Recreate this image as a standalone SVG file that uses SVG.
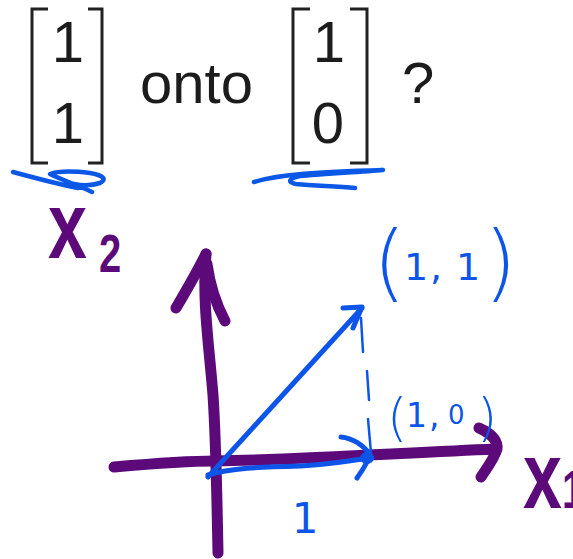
<svg xmlns="http://www.w3.org/2000/svg" width="573" height="559" viewBox="0 0 573 559">
<style>
.tx{font-family:"Liberation Sans",Arial,sans-serif;font-size:58px;fill:#1c1c1c}
.br{fill:none;stroke:#222;stroke-width:3;stroke-linecap:butt}
.ul{fill:none;stroke:#0b57e6;stroke-width:4.5;stroke-linecap:round;stroke-linejoin:round}
.ax{fill:none;stroke:#5c0a7a;stroke-width:11;stroke-linecap:round;stroke-linejoin:round}
.vc{fill:none;stroke:#0d55e8;stroke-width:5;stroke-linecap:round;stroke-linejoin:round}
.ds{fill:none;stroke:#0d55e8;stroke-width:2.5;stroke-linecap:round}
.bl{font-family:"DejaVu Sans",sans-serif;fill:#0d55e8}
.pr{font-weight:200}
.pl{font-family:"Liberation Sans",Arial,sans-serif;font-weight:bold;fill:#5c0a7a}
</style>
<rect width="573" height="559" fill="#ffffff"/>
<g id="header">
  <g id="matrix-11">
    <path class="br" d="M48,9 H32 V163 H48"/>
    <path class="br" d="M88,9 H102 V163 H88"/>
    <text class="tx" x="68" y="62" text-anchor="middle">1</text>
    <text class="tx" x="68" y="143" text-anchor="middle">1</text>
  </g>
  <text id="onto" class="tx" x="140" y="103">onto</text>
  <g id="matrix-10">
    <path class="br" d="M310,9 H293 V163 H310"/>
    <path class="br" d="M350,9 H367 V163 H350"/>
    <text class="tx" x="329" y="62" text-anchor="middle">1</text>
    <text class="tx" x="328" y="143" text-anchor="middle">0</text>
  </g>
  <text id="question" class="tx" x="402" y="103">?</text>
</g>
<g id="underlines">
  <path class="ul" d="M13,172 C35,178 58,184 78,188 M92,192 C80,186 62,180 50,174 C58,171 72,171 90,173 C102,175 108,179 100,183 C94,185 84,186 74,184"/>
  <path class="ul" d="M254,182 C280,174 320,172 383,170 C360,172 320,174 300,176 C290,178 286,182 296,184 C315,186 335,186 355,188"/>
</g>
<g id="axes">
  <path class="ax" d="M218,553 C217,500 216,440 213,395 C209,345 202,300 206,254"/>
  <path class="ax" d="M206,254 C197,272 186,291 176,308"/>
  <path class="ax" d="M207,264 C210,286 217,306 225,321"/>
  <path class="ax" d="M114,467 C160,463 190,461 215,461 C300,460 400,453 495,449"/>
  <path class="ax" d="M479,428 C490,433 498,440 497,449 C494,459 487,468 481,477"/>
</g>
<g id="connectors">
  <path class="vc" d="M208,477 L362,308"/>
  <path class="vc" d="M343,308 L362,307 L353,328"/>
  <path class="vc" d="M208,475 C230,468 260,467 300,466 C330,465 352,460 372,458"/>
  <ellipse cx="367" cy="458" rx="7" ry="6" fill="#0d55e8"/>
  <path class="vc" d="M341,437 C352,438 364,445 370,455 C366,466 361,472 357,478"/>
  <path class="ds" d="M361,318 L363,352 M367,371 L369,400 M368,419 L371,453"/>
</g>
<g id="labels">
  <text class="bl"><tspan class="pr" x="373" y="291" font-size="84">(</tspan><tspan x="404" y="280" font-size="38">1</tspan><tspan x="430" y="280" font-size="38">,</tspan><tspan x="456" y="280" font-size="38">1</tspan><tspan class="pr" x="484" y="291" font-size="84">)</tspan></text>
  <text class="bl"><tspan class="pr" x="387" y="435" font-size="52">(</tspan><tspan x="406" y="427" font-size="33">1</tspan><tspan x="429" y="427" font-size="33">,</tspan><tspan x="448" y="424" font-size="26">0</tspan><tspan class="pr" x="477" y="435" font-size="52">)</tspan></text>
  <text class="bl" x="305" y="533" font-size="42" text-anchor="middle">1</text>
  <text class="pl" transform="scale(1,1.35)"><tspan x="48" y="191" font-size="70">x</tspan><tspan x="99" y="201.5" font-size="40">2</tspan></text>
  <text class="pl" transform="scale(1,1.35)"><tspan x="523" y="376" font-size="70">x</tspan><tspan x="562" y="376" font-size="40">1</tspan></text>
</g>
</svg>
